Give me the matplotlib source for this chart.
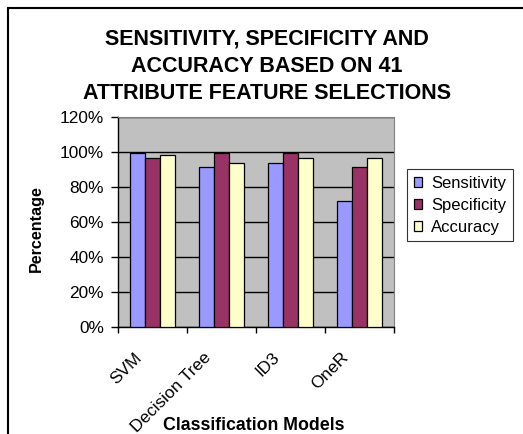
import numpy as np
import matplotlib
matplotlib.use('Agg')
import matplotlib.pyplot as plt
from matplotlib.lines import Line2D
from matplotlib.ticker import FixedLocator
from matplotlib.transforms import offset_copy

plt.rcParams['font.family'] = ['Liberation Sans', 'DejaVu Sans']

models = ['SVM', 'Decision Tree', 'ID3', 'OneR']
sensitivity = [99.3, 91.4, 93.8, 72.0]
specificity = [96.8, 99.3, 99.3, 91.4]
accuracy = [98.5, 93.8, 96.8, 96.8]
series_names = ['Sensitivity', 'Specificity', 'Accuracy']
colors = ['#9999FF', '#993366', '#FFFFCC']
title_lines = ['SENSITIVITY, SPECIFICITY AND', 'ACCURACY BASED ON 41',
               'ATTRIBUTE FEATURE SELECTIONS']

W, H = 523, 434
fig = plt.figure(figsize=(W / 100, H / 100), dpi=100)
ax = fig.add_axes([118 / W, 1 - 327 / H, (394 - 118) / W, (327 - 117) / H])
ax.set_facecolor('#C0C0C0')

x = np.arange(len(models))
w = 0.217
for i, (vals, name, c) in enumerate(zip([sensitivity, specificity, accuracy], series_names, colors)):
    ax.bar(x + (i - 1) * w, vals, w, color=c, edgecolor='black', linewidth=0.9,
           label=name, zorder=3)

ax.set_xlim(-0.5, len(models) - 0.5)
ax.set_ylim(0, 120)
ax.set_yticks(range(0, 121, 20))
ax.set_yticklabels([f'{v}%' for v in range(0, 121, 20)], fontsize=12.4)
ax.yaxis.grid(True, color='black', linewidth=1, zorder=1)
ax.set_axisbelow(True)

# ticks between categories, labels at the centres
ax.xaxis.set_major_locator(FixedLocator(np.arange(-0.5, len(models), 1)))
ax.set_xticklabels([])
ax.set_xticks(x, models, minor=True)
ax.tick_params(axis='x', which='minor', length=0, labelsize=12.4, pad=0)
for lab in ax.get_xticklabels(minor=True):
    lab.set_rotation(45)
    lab.set_ha('right')
    lab.set_va('top')
    lab.set_rotation_mode('anchor')
    lab.set_transform(offset_copy(lab.get_transform(), fig, x=-18.5, y=-23, units='dots'))
ax.tick_params(axis='x', which='major', direction='out', length=4, width=1, color='black')
ax.tick_params(axis='y', which='major', direction='out', length=5, width=1, color='black', pad=5)

for s in ['top', 'right']:
    ax.spines[s].set_color('#808080')
for s in ['left', 'bottom']:
    ax.spines[s].set_color('black')
    ax.spines[s].set_linewidth(1)

ax.set_ylabel('Percentage', fontsize=11.6, fontweight='bold')
ax.yaxis.set_label_coords((44 - 118) / (394 - 118), 1 - (228.5 - 117) / (327 - 117))
fig.text(254 / W, 1 - 430 / H, 'Classification Models', ha='center', va='baseline',
         fontsize=12.8, fontweight='bold')

leg = ax.legend(loc='upper left', bbox_to_anchor=(407 / W, 1 - 169 / H),
                bbox_transform=fig.transFigure, fontsize=12, frameon=True,
                fancybox=False, edgecolor='black', handlelength=0.5,
                handleheight=0.5, handletextpad=0.55, borderpad=0.4,
                labelspacing=0.42, borderaxespad=0)
leg.get_frame().set_linewidth(0.8)

for j, t in enumerate(title_lines):
    fig.text(267 / W, 1 - (44 + 27.5 * j) / H, t, ha='center', va='baseline',
             fontsize=15.5, fontweight='bold')

fig.add_artist(Line2D([8 / W, 1], [1 - 8 / H, 1 - 8 / H], color='black', linewidth=1.5))
fig.add_artist(Line2D([8 / W, 8 / W], [0, 1 - 8 / H], color='black', linewidth=1.5))

fig.savefig('out.png', dpi=100)
